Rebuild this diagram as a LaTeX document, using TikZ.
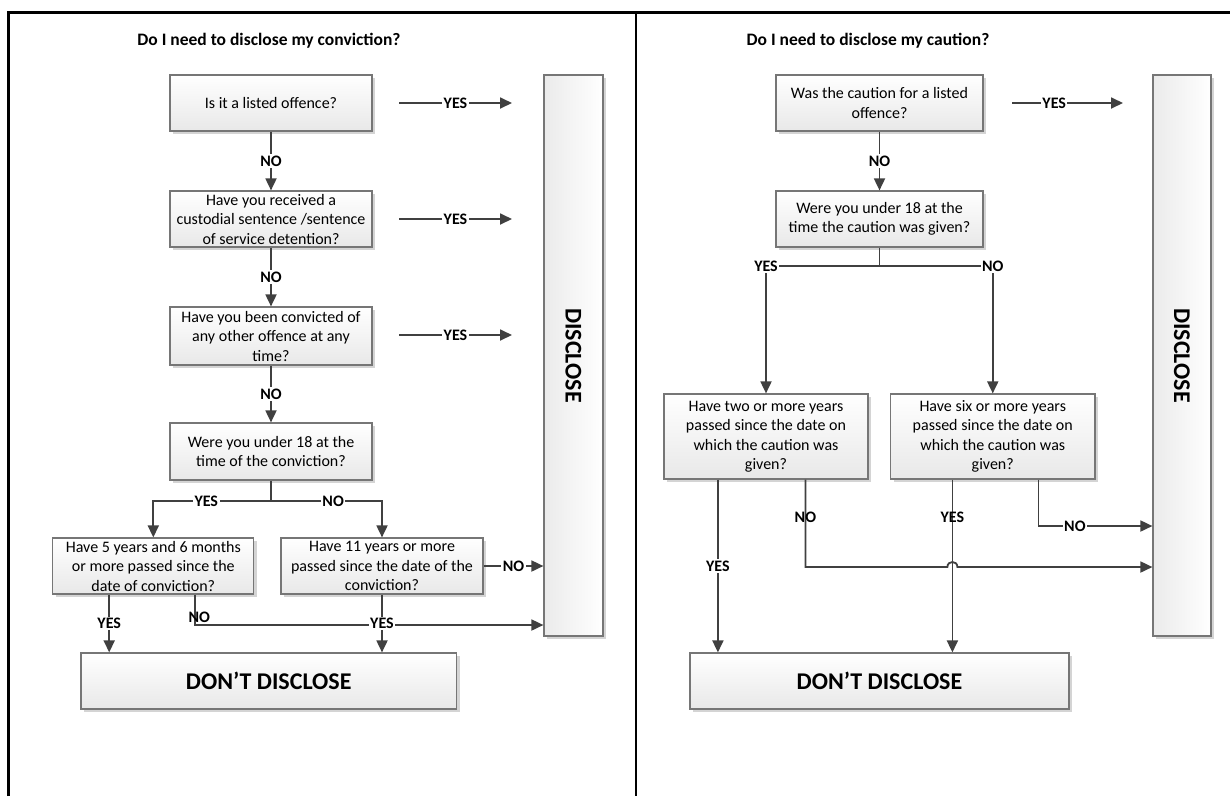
\documentclass[tikz,border=0pt]{standalone}
\usepackage{fontspec}
\setmainfont{Carlito}
\usetikzlibrary{shadows,arrows.meta,calc}
\definecolor{lnc}{RGB}{64,64,64}
\definecolor{bdc}{RGB}{118,118,118}
\definecolor{shc}{RGB}{212,212,212}
\tikzset{
  qbox/.style={draw=bdc, line width=1.2pt, top color=white, bottom color=gray!18,
    drop shadow={shadow xshift=3pt, shadow yshift=-3pt, fill=shc, opacity=1},
    align=center, font=\fontsize{16}{19.5}\selectfont, inner sep=0pt},
  ddbox/.style={qbox, font=\fontsize{24}{28}\selectfont\bfseries},
  disbox/.style={draw=bdc, line width=1.2pt, left color=gray!16, right color=white,
    drop shadow={shadow xshift=3pt, shadow yshift=-3pt, fill=shc, opacity=1},
    inner sep=0pt},
  distxt/.style={rotate=-90, font=\fontsize{24}{28}\selectfont\bfseries, inner sep=0pt},
  ttl/.style={font=\fontsize{17.5}{20}\selectfont\bfseries, inner sep=0pt},
  arr/.style={draw=lnc, line width=1.8pt, -{Triangle[length=12pt,width=11pt]}},
  ln/.style={draw=lnc, line width=1.8pt},
  lab/.style={font=\fontsize{16}{19}\selectfont\bfseries, fill=white, inner sep=1.5pt},
  labn/.style={font=\fontsize{16}{19}\selectfont\bfseries, inner sep=0pt},
}
\begin{document}
\begin{tikzpicture}[x=1pt,y=-1pt]
\useasboundingbox (0,0) rectangle (1230,796);
% frame
\draw[line width=3pt] (8,796) -- (8,12) -- (1230,12);
\draw[line width=1.5pt] (636,12) -- (636,796);

% ---------- left panel ----------
\node[ttl] (T1) at (269,41) {Do I need to disclose my conviction?};
\node[qbox, minimum width=202pt, minimum height=56pt] (L1) at (271,103) {Is it a listed offence?};
\node[qbox, minimum width=202pt, minimum height=56pt] (L2) at (271,219) {Have you received a\\custodial sentence /sentence\\of service detention?};
\node[qbox, minimum width=202pt, minimum height=58pt] (L3) at (271,336) {Have you been convicted of\\any other offence at any\\time?};
\node[qbox, minimum width=202pt, minimum height=57pt] (L4) at (271,451.5) {Were you under 18 at the\\time of the conviction?};
\node[qbox, minimum width=201pt, minimum height=56pt] (L5) at (153.3,566) {Have 5 years and 6 months\\or more passed since the\\date of conviction?};
\node[qbox, minimum width=202pt, minimum height=56pt] (L6) at (382,566) {Have 11 years or more\\passed since the date of the\\conviction?};
\node[ddbox, minimum width=375.5pt, minimum height=56pt] (LDD) at (268.75,681) {DON’T DISCLOSE};
\node[disbox, minimum width=59pt, minimum height=561pt] (LDIS) at (573.5,355.5) {};
\node[distxt] (LDIST) at (LDIS.center) {DISCLOSE};

\draw[arr] (L1) -- node[lab]{NO} (L2);
\draw[arr] (L2) -- node[lab]{NO} (L3);
\draw[arr] (L3) -- node[lab]{NO} (L4);
\coordinate (Ls) at (271,501);
\draw[ln] (L4) -- (Ls);
\draw[arr] (Ls) -| node[lab,pos=0.275]{YES} (L5.north);
\draw[arr] (Ls) -| node[lab,pos=0.28]{NO} (L6.north);

\coordinate (ya1) at (399,103); \coordinate (yb1) at (512,103);
\coordinate (ya2) at (399,219); \coordinate (yb2) at (512,219);
\coordinate (ya3) at (399,335); \coordinate (yb3) at (512,335);
\draw[arr] (ya1) -- node[lab]{YES} (yb1);
\draw[arr] (ya2) -- node[lab]{YES} (yb2);
\draw[arr] (ya3) -- node[lab]{YES} (yb3);

\coordinate (l5a) at ([xshift=57pt]L5.south west);
\coordinate (l5b) at ([xshift=143pt]L5.south west);
\coordinate (ny) at (0,625);
\draw[arr] (l5a) -- node[lab]{YES} (l5a |- LDD.north);
\draw[arr] (l5b) |- (LDIS.west |- ny);
\path (l5b |- ny) node[labn, xshift=4pt, yshift=8pt] (l5no) {NO};
\draw[arr] (L6) -- node[lab]{YES} (L6 |- LDD.north);
\draw[arr] (L6) -- node[lab]{NO} (L6 -| LDIS.west);

% ---------- right panel ----------
\node[ttl] (T2) at (868,41) {Do I need to disclose my caution?};
\node[qbox, minimum width=207pt, minimum height=56pt] (R1) at (879.5,103) {Was the caution for a listed\\offence?};
\node[qbox, minimum width=207pt, minimum height=56pt] (R2) at (879.5,219) {Were you under 18 at the\\time the caution was given?};
\node[qbox, minimum width=204pt, minimum height=85pt] (R3) at (766,436.5) {Have two or more years\\passed since the date on\\which the caution was\\given?};
\node[qbox, minimum width=204.5pt, minimum height=85pt] (R4) at (992.75,436.5) {Have six or more years\\passed since the date on\\which the caution was\\given?};
\node[ddbox, minimum width=379pt, minimum height=56pt] (RDD) at (879.5,681) {DON’T DISCLOSE};
\node[disbox, minimum width=58pt, minimum height=561pt] (RDIS) at (1182,355.5) {};
\node[distxt] (RDIST) at (RDIS.center) {DISCLOSE};

\draw[arr] (R1) -- node[lab]{NO} (R2);
\coordinate (ra) at (1012,103); \coordinate (rb) at (1123,103);
\draw[arr] (ra) -- node[lab,pos=0.38]{YES} (rb);
\coordinate (Rs) at (879.5,266);
\draw[ln] (R2) -- (Rs);
\draw[arr] (Rs) -| node[lab,pos=0.5]{YES} (R3.north);
\draw[arr] (Rs) -| node[lab,pos=0.5]{NO} (R4.north);

\coordinate (r3y) at ([xshift=54.5pt]R3.south west);
\coordinate (r3n) at ([xshift=142pt]R3.south west);
\coordinate (r4y) at ([xshift=62.5pt]R4.south west);
\coordinate (r4n) at ([xshift=148.5pt]R4.south west);
\coordinate (y567) at (0,567);
\coordinate (y526) at (0,526);
\coordinate (h1) at ($(r4y |- y567)+(-5,0)$);
\coordinate (h2) at ($(r4y |- y567)+(5,0)$);

\draw[arr] (r3y) -- node[lab]{YES} (r3y |- RDD.north);
\draw[arr] (r3n) -- node[labn,pos=0.43]{NO} (r3n |- y567) -- (h1)
   .. controls ($(h1)+(0,-6.7)$) and ($(h2)+(0,-6.7)$) .. (h2) -- (RDIS.west |- y567);
\draw[arr] (r4y) -- node[labn,pos=0.22]{YES} (r4y |- RDD.north);
\draw[arr] (r4n) |- node[lab,pos=0.66]{NO} (RDIS.west |- y526);
\end{tikzpicture}
\end{document}
